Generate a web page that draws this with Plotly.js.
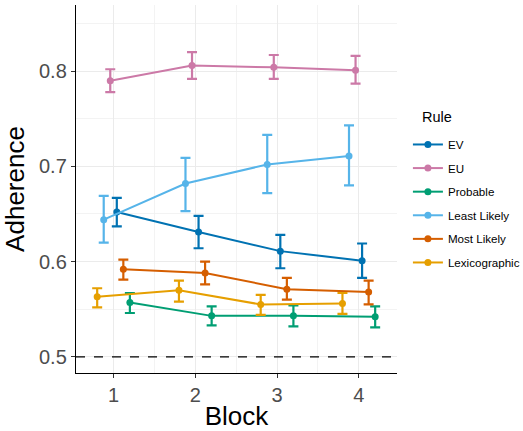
<!DOCTYPE html>
<html>
<head>
<meta charset="utf-8">
<script src="https://cdn.plot.ly/plotly-3.0.1.min.js"></script>
<style>html,body{margin:0;padding:0;background:#fff;}#chart{width:523px;height:431px;}</style>
</head>
<body>
<div id="chart"></div>
<script>
var blocks = [1, 2, 3, 4];
var rules = ["EV", "EU", "Probable", "Least Likely", "Most Likely", "Lexicographic"];

var evMean = [0.652, 0.631, 0.611, 0.601];
var evHi   = [0.667, 0.648, 0.628, 0.619];
var evLo   = [0.637, 0.614, 0.593, 0.583];

var euMean = [0.790, 0.806, 0.804, 0.801];
var euHi   = [0.802, 0.820, 0.817, 0.816];
var euLo   = [0.778, 0.792, 0.792, 0.787];

var probMean = [0.557, 0.543, 0.543, 0.542];
var probHi   = [0.567, 0.553, 0.554, 0.553];
var probLo   = [0.546, 0.533, 0.532, 0.531];

var leastMean = [0.644, 0.682, 0.702, 0.711];
var leastHi   = [0.669, 0.709, 0.733, 0.743];
var leastLo   = [0.620, 0.653, 0.672, 0.680];

var mostMean = [0.592, 0.588, 0.571, 0.568];
var mostHi   = [0.602, 0.600, 0.583, 0.580];
var mostLo   = [0.581, 0.576, 0.560, 0.555];

var lexMean = [0.563, 0.570, 0.555, 0.556];
var lexHi   = [0.572, 0.580, 0.565, 0.567];
var lexLo   = [0.552, 0.558, 0.544, 0.545];

var yTicks = [0.5, 0.6, 0.7, 0.8];
var yTickText = ["0.5", "0.6", "0.7", "0.8"];
var xTickText = ["1", "2", "3", "4"];

var means = [evMean, euMean, probMean, leastMean, mostMean, lexMean];
var highs = [evHi, euHi, probHi, leastHi, mostHi, lexHi];
var lows  = [evLo, euLo, probLo, leastLo, mostLo, lexLo];

// styling / dodge positions
var colors = ["#0072B2", "#CC79A7", "#009E73", "#56B4E9", "#D55E00", "#E69F00"];
var dodge  = [0.04, -0.04, 0.2, -0.12, 0.12, -0.2];

var traces = rules.map(function (r, i) {
  var m = means[i];
  return {
    type: "scatter",
    mode: "lines+markers",
    name: r,
    legendgroup: "g" + i,
    x: blocks.map(function (b) { return b + dodge[i]; }),
    y: m,
    line: {color: colors[i], width: 2},
    marker: {color: colors[i], size: 7},
    error_y: {
      type: "data",
      symmetric: false,
      array: highs[i].map(function (h, k) { return h - m[k]; }),
      arrayminus: lows[i].map(function (l, k) { return m[k] - l; }),
      color: colors[i],
      thickness: 2.2,
      width: 5
    }
  };
});

var layout = {
  width: 523,
  height: 431,
  margin: {l: 76, r: 126, t: 5, b: 58, autoexpand: false},
  paper_bgcolor: "#ffffff",
  plot_bgcolor: "#ffffff",
  font: {family: "Liberation Sans, Arial, sans-serif", color: "#4D4D4D"},
  xaxis: {
    range: [0.541, 4.467],
    tickvals: blocks,
    ticktext: xTickText,
    tickfont: {size: 20, color: "#4D4D4D"},
    ticks: "outside", ticklen: 4, tickcolor: "#333333", tickwidth: 1,
    showline: true, linecolor: "#000000", linewidth: 1.2,
    showgrid: true, gridcolor: "#EBEBEB", gridwidth: 1,
    minor: {tick0: 0.5, dtick: 1, showgrid: true, gridcolor: "#F0F0F0", gridwidth: 0.8, ticks: ""},
    zeroline: false,
    title: {text: "Block", font: {size: 26, color: "#000000"}, standoff: 6}
  },
  yaxis: {
    range: [0.483, 0.8695],
    tickvals: yTicks,
    ticktext: yTickText,
    tickfont: {size: 20, color: "#4D4D4D"},
    ticks: "outside", ticklen: 4, tickcolor: "#333333", tickwidth: 1,
    showline: true, linecolor: "#000000", linewidth: 1.2,
    showgrid: true, gridcolor: "#EBEBEB", gridwidth: 1,
    minor: {tick0: 0.45, dtick: 0.1, showgrid: true, gridcolor: "#F0F0F0", gridwidth: 0.8, ticks: ""},
    zeroline: false,
    title: {text: "Adherence", font: {size: 26, color: "#000000"}, standoff: 6}
  },
  shapes: [{
    type: "line", xref: "paper", x0: 0, x1: 1, yref: "y", y0: 0.5, y1: 0.5,
    line: {color: "#000000", width: 1.2, dash: "dash"}
  }],
  annotations: [{
    text: "Rule", xref: "paper", yref: "paper", x: 1.0717, y: 0.6957,
    xanchor: "left", yanchor: "middle", showarrow: false,
    font: {size: 14.5, color: "#000000"}
  }],
  legend: {
    x: 1.034, xanchor: "left", y: 0.6604, yanchor: "top",
    font: {size: 11.6, color: "#000000"},
    tracegroupgap: 4.6,
    itemwidth: 30,
    bgcolor: "rgba(0,0,0,0)"
  },
  showlegend: true
};

Plotly.newPlot("chart", traces, layout, {displayModeBar: false, staticPlot: true});
</script>
</body>
</html>
